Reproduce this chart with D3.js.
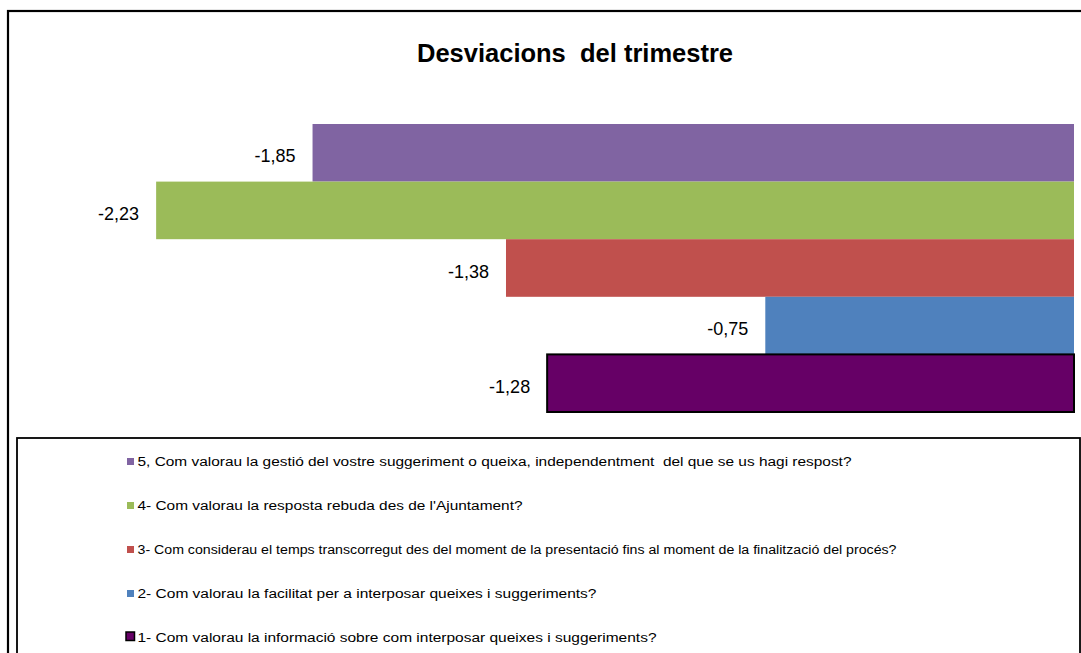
<!DOCTYPE html>
<html>
<head>
<meta charset="utf-8">
<script src="https://cdn.jsdelivr.net/npm/d3@7"></script>
<style>
  html, body { margin: 0; padding: 0; background: #fff; }
  svg { display: block; font-family: "Liberation Sans", Arial, sans-serif; }
</style>
</head>
<body>
<svg id="chart" width="1081" height="653"></svg>
<script>
// Questions, top to bottom as drawn
const categories = ["5", "4", "3", "2", "1"];
const values = [-1.85, -2.23, -1.38, -0.75, -1.28];
const legendLabels = [
  "5, Com valorau la gestió del vostre suggeriment o queixa, independentment  del que se us hagi respost?",
  "4- Com valorau la resposta rebuda des de l'Ajuntament?",
  "3- Com considerau el temps transcorregut des del moment de la presentació fins al moment de la finalització del procés?",
  "2- Com valorau la facilitat per a interposar queixes i suggeriments?",
  "1- Com valorau la informació sobre com interposar queixes i suggeriments?"
];
const colors = ["#8064A2", "#9BBB59", "#C0504D", "#4F81BD", "#660066"];
const outlined = [false, false, false, false, true];
const title = "Desviacions\u00a0 del trimestre";

// Rendered widths of the legend lines (layout only)
const legendTextWidths = [714, 385, 759, 459, 519];

const svg = d3.select("#chart");
const fmt = v => d3.format(".2f")(v).replace(".", ",").replace("\u2212", "-");

// Outer chart frame
svg.append("rect")
  .attr("x", 8).attr("y", 11)
  .attr("width", 1090).attr("height", 700)
  .attr("fill", "#fff").attr("stroke", "#000").attr("stroke-width", 2.2);

// Title
svg.append("text")
  .attr("x", 575).attr("y", 62)
  .attr("text-anchor", "middle")
  .attr("font-size", 25.5).attr("font-weight", "bold")
  .attr("fill", "#000")
  .text(title);

// Scales
const x = d3.scaleLinear().domain([-2.5, 0]).range([45, 1074]);
const y = d3.scaleBand().domain(categories).range([124, 412]).padding(0);

const rows = categories.map((c, i) => ({ c, v: values[i], color: colors[i], outline: outlined[i] }));

// Bars grow leftward from zero
svg.append("g").selectAll("rect")
  .data(rows)
  .join("rect")
  .attr("x", d => x(d.v))
  .attr("y", d => y(d.c))
  .attr("width", d => x(0) - x(d.v))
  .attr("height", y.bandwidth())
  .attr("fill", d => d.color)
  .attr("stroke", d => d.outline ? "#000" : "none")
  .attr("stroke-width", d => d.outline ? 2 : 0);

// Value labels to the left of each bar
svg.append("g").selectAll("text")
  .data(rows)
  .join("text")
  .attr("x", d => x(d.v) - 17)
  .attr("y", d => y(d.c) + y.bandwidth() / 2 + 9.5)
  .attr("text-anchor", "end")
  .attr("font-size", 18)
  .attr("fill", "#000")
  .text(d => fmt(d.v));

// Legend box
svg.append("rect")
  .attr("x", 17).attr("y", 438)
  .attr("width", 1063).attr("height", 300)
  .attr("fill", "#fff").attr("stroke", "#000").attr("stroke-width", 1.8);

const legend = svg.append("g").selectAll("g")
  .data(rows)
  .join("g")
  .attr("transform", (d, i) => `translate(127, ${466 + i * 44})`);

legend.append("rect")
  .attr("x", d => d.outline ? -1 : 0)
  .attr("y", d => d.outline ? -10 : -8)
  .attr("width", d => d.outline ? 8.5 : 7)
  .attr("height", d => d.outline ? 8.5 : 7)
  .attr("fill", d => d.color)
  .attr("stroke", d => d.outline ? "#000" : "none")
  .attr("stroke-width", d => d.outline ? 1.5 : 0);

legend.append("text")
  .attr("x", 10.5)
  .attr("y", 0)
  .attr("font-size", 12)
  .attr("fill", "#000")
  .attr("textLength", (d, i) => legendTextWidths[i])
  .attr("lengthAdjust", "spacingAndGlyphs")
  .style("white-space", "pre")
  .text((d, i) => legendLabels[i]);
</script>
</body>
</html>
